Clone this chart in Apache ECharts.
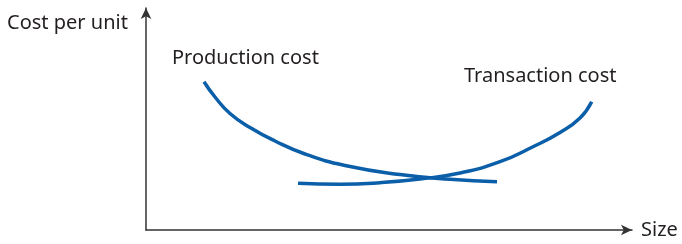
<!DOCTYPE html>
<html><head><meta charset="utf-8">
<script src="https://cdn.jsdelivr.net/npm/echarts@6/dist/echarts.min.js"></script>
<style>html,body{margin:0;padding:0;background:#fff}#c{width:682px;height:244px}</style>
</head><body><div id="c"></div>
<script>
const productionCost = [[11.93,66.80],[14.20,59.91],[17.28,52.48],[21.40,46.17],[26.54,40.09],[32.72,34.23],[40.95,29.05],[52.26,25.00],[62.55,22.84],[72.22,21.76]];
const transactionCost = [[31.28,21.04],[39.92,20.63],[48.15,21.31],[56.38,22.97],[64.61,25.68],[72.84,30.77],[79.63,37.52],[85.19,43.92],[89.30,50.45],[91.71,57.79]];
const axisNames = {x:'Size', y:'Cost per unit'};
const seriesNames = ['Production cost','Transaction cost'];

const chart = echarts.init(document.getElementById('c'), null, {renderer:'canvas'});
const font = '"Noto Sans", sans-serif';
const txt = '#231f20';
const blue = '#0b5ea8';
chart.setOption({
  animation:false,
  grid:{left:146,right:50,top:8,bottom:14},
  xAxis:{type:'value',min:0,max:100,splitLine:{show:false},axisTick:{show:false},axisLabel:{show:false},
    axisLine:{lineStyle:{color:'#333',width:1.5},symbol:['none','arrow'],symbolSize:[8,11]},
    name:axisNames.x,nameLocation:'end',nameGap:9,nameTextStyle:{color:txt,fontSize:20,fontFamily:font,verticalAlign:'middle',padding:[2,0,0,0]}},
  yAxis:{type:'value',min:0,max:100,splitLine:{show:false},axisTick:{show:false},axisLabel:{show:false},
    axisLine:{lineStyle:{color:'#333',width:1.5},symbol:['none','arrow'],symbolSize:[8,11]}},
  graphic:[
    {type:'text',x:7,y:23,style:{text:axisNames.y,fill:txt,font:'20px '+font,verticalAlign:'middle'}},
    {type:'text',x:172,y:58,style:{text:seriesNames[0],fill:txt,font:'20px '+font,verticalAlign:'middle'}},
    {type:'text',x:464,y:76,style:{text:seriesNames[1],fill:txt,font:'20px '+font,verticalAlign:'middle'}}
  ],
  series:[
    {name:seriesNames[0],type:'line',data:productionCost,smooth:0.5,showSymbol:false,lineStyle:{color:blue,width:3.5}},
    {name:seriesNames[1],type:'line',data:transactionCost,smooth:0.5,showSymbol:false,lineStyle:{color:blue,width:3.5}}
  ]
});
</script></body></html>
